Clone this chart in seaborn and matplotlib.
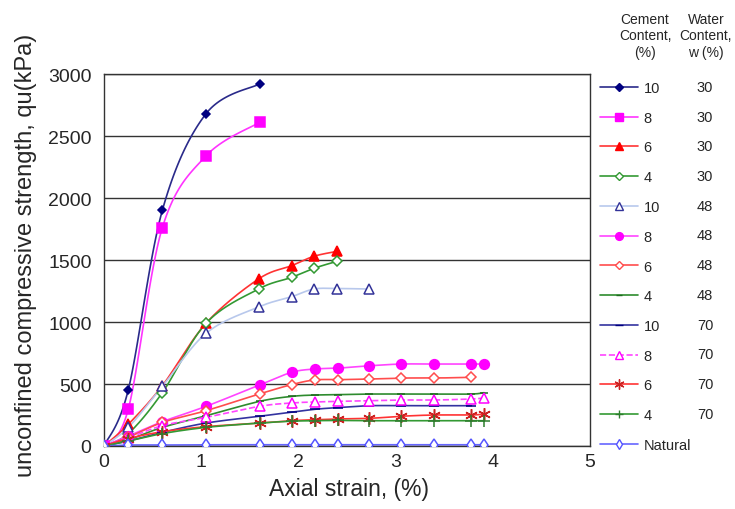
import numpy as np
import pandas as pd
import seaborn as sns
import matplotlib
matplotlib.use("Agg")
import matplotlib.pyplot as plt
from matplotlib.lines import Line2D

# ---- data: axial strain (%) and unconfined compressive strength qu (kPa) ----
strain_short = [0, 0.25, 0.6, 1.05, 1.6]
qu_c10_w30 = [0, 454, 1900, 2680, 2920]
qu_c8_w30 = [0, 298, 1760, 2340, 2610]

strain_mid = [0, 0.25, 0.6, 1.05, 1.59, 1.93, 2.16, 2.40]
qu_c6_w30 = [0, 175, 486, 990, 1347, 1454, 1530, 1570]
qu_c4_w30 = [0, 100, 430, 990, 1266, 1360, 1433, 1490]

strain_c10_w48 = [0, 0.25, 0.6, 1.05, 1.59, 1.93, 2.16, 2.40, 2.73]
qu_c10_w48 = [0, 150, 480, 909, 1121, 1204, 1266, 1270, 1266]

strain_long = [0, 0.25, 0.6, 1.05, 1.6, 1.93, 2.17, 2.41, 2.73, 3.06, 3.40, 3.78, 3.91]
qu_c8_w48 = [0, 80, 196, 320, 492, 594, 621, 628, 647, 661, 661, 661, 661]
qu_c6_w48 = [0, 70, 190, 285, 420, 495, 533, 535, 540, 548, 548, 554]
qu_c4_w48 = [0, 50, 150, 244, 360, 400, 411, 414, 419, 419, 419, 419, 430]
qu_c10_w70 = [0, 40, 110, 185, 240, 272, 296, 310, 325, 325, 325, 325]
qu_c8_w70 = [0, 65, 164, 231, 320, 347, 355, 360, 365, 371, 371, 379, 387]
qu_c6_w70 = [0, 60, 115, 156, 185, 204, 212, 218, 223, 240, 250, 250, 258]
qu_c4_w70 = [0, 40, 100, 150, 185, 200, 204, 206, 204, 204, 204, 204, 204]
qu_natural = [0, 8, 8, 10, 10, 10, 10, 10, 10, 10, 10, 10, 10]

cement_labels = ["10", "8", "6", "4", "10", "8", "6", "4", "10", "8", "6", "4", "Natural"]
water_labels = ["30", "30", "30", "30", "48", "48", "48", "48", "70", "70", "70", "70", ""]

x_ticks = [0, 1, 2, 3, 4, 5]
y_ticks = [0, 500, 1000, 1500, 2000, 2500, 3000]

# series: (strain, qu, line colour, marker, marker face, marker edge, marker size, line style)
series = [
    (strain_short, qu_c10_w30, "#2a2a8a", "D", "#000080", "#000080", 4.5, "-"),
    (strain_short, qu_c8_w30, "#ff33ff", "s", "#ff00ff", "#ff00ff", 6.5, "-"),
    (strain_mid, qu_c6_w30, "#ff3333", "^", "#ff0000", "#ff0000", 7, "-"),
    (strain_mid, qu_c4_w30, "#339933", "D", "white", "#339933", 5, "-"),
    (strain_c10_w48, qu_c10_w48, "#b8c8ec", "^", "white", "#333399", 7, "-"),
    (strain_long, qu_c8_w48, "#ff44ff", "o", "#ff00ff", "#ff00ff", 7, "-"),
    (strain_long[:12], qu_c6_w48, "#ff4d4d", "D", "white", "#ff4d4d", 5, "-"),
    (strain_long, qu_c4_w48, "#2e8b2e", "_", "#1e6b1e", "#1e6b1e", 6, "-"),
    (strain_long[:12], qu_c10_w70, "#3333a0", "_", "#000080", "#000080", 7, "-"),
    (strain_long, qu_c8_w70, "#ff44ff", "^", "white", "#ff00ff", 7, "--"),
    (strain_long, qu_c6_w70, "#ff3333", (6, 2, 0), "#cc2222", "#cc2222", 9, "-"),
    (strain_long, qu_c4_w70, "#339933", "+", "#2e7d2e", "#2e7d2e", 8, "-"),
    (strain_long, qu_natural, "#6666ff", "d", "white", "#5555ff", 6, "-"),
]


def smooth_curve(x, y, n=30):
    """Bezier smoothing through every point (spreadsheet style)."""
    p = np.column_stack([x, y]).astype(float)
    out = [p[0]]
    for i in range(len(p) - 1):
        p0 = p[i - 1] if i > 0 else p[i]
        p1, p2 = p[i], p[i + 1]
        p3 = p[i + 2] if i + 2 < len(p) else p[i + 1]
        c1 = p1 + (p2 - p0) / 6.0
        c2 = p2 - (p3 - p1) / 6.0
        t = np.linspace(0, 1, n)[1:, None]
        seg = ((1 - t) ** 3) * p1 + 3 * ((1 - t) ** 2) * t * c1 + 3 * (1 - t) * t ** 2 * c2 + t ** 3 * p2
        out.extend(seg)
    out = np.array(out)
    return out[:, 0], out[:, 1]


sns.set_theme(style="white")
plt.rcParams["font.family"] = ["Liberation Sans", "DejaVu Sans"]

fig = plt.figure(figsize=(7.35, 5.1), dpi=100)
ax = fig.add_axes([104 / 735, 1 - 447 / 510, 486 / 735, 372 / 510])

handles = []
for x, y, lc, mk, mf, me, ms, ls in series:
    sx, sy = smooth_curve(x, y)
    sns.lineplot(x=sx, y=sy, ax=ax, color=lc, linewidth=1.2, linestyle=ls,
                 sort=False, estimator=None, zorder=2)
    ax.plot(x, y, linestyle="none", marker=mk, markerfacecolor=mf,
            markeredgecolor=me, markersize=ms, markeredgewidth=1.1, zorder=3)
    handles.append(Line2D([], [], color=lc, linestyle=ls, linewidth=1.2, marker=mk,
                          markerfacecolor=mf, markeredgecolor=me,
                          markersize=ms * 0.8, markeredgewidth=1.0))

ax.set_xlim(0, 5)
ax.set_ylim(0, 3000)
ax.set_xticks(x_ticks)
ax.set_yticks(y_ticks)
ax.set_xticklabels([str(v) for v in x_ticks], fontsize=14)
ax.set_yticklabels([str(v) for v in y_ticks], fontsize=14)
ax.yaxis.grid(True, color="#333333", linewidth=1.0)
ax.xaxis.grid(False)
ax.set_axisbelow(True)
for s in ax.spines.values():
    s.set_color("#333333")
    s.set_linewidth(1.0)
ax.tick_params(axis="y", direction="out", length=6, width=1, color="#333333", pad=3)
ax.tick_params(axis="x", direction="in", length=5, width=1, color="#333333", pad=5)

ax.set_xlabel("")
ax.set_ylabel("")
fig.text(349 / 735, 1 - 490 / 510, "Axial strain, (%)", ha="center", va="center",
         fontsize=16.5)
fig.text(26 / 735, 1 - 255 / 510, "unconfined compressive strength, qu(kPa)",
         ha="center", va="center", rotation=90, fontsize=17)

leg = fig.legend(handles, cement_labels, loc="upper left",
                 bbox_to_anchor=(600 / 735, 1 - 82 / 510), frameon=False,
                 prop={"size": 10.5}, handlelength=2.6,
                 handletextpad=0.4, labelspacing=1.08, borderaxespad=0, borderpad=0)

row_y = [88 + 29.7 * i for i in range(13)]
for yy, w in zip(row_y, water_labels):
    if w:
        fig.text(705 / 735, 1 - yy / 510, w, ha="center", va="center", fontsize=10.5)

for i, line in enumerate(["Cement", "Content,", "(%)"]):
    fig.text(645 / 735, 1 - (20 + 16.5 * i) / 510, line, ha="center", va="center",
             fontsize=10)
for i, line in enumerate(["Water", "Content,", "w (%)"]):
    fig.text(706 / 735, 1 - (20 + 16.5 * i) / 510, line, ha="center", va="center",
             fontsize=10)

fig.savefig("out.png", dpi=100, facecolor="white")
